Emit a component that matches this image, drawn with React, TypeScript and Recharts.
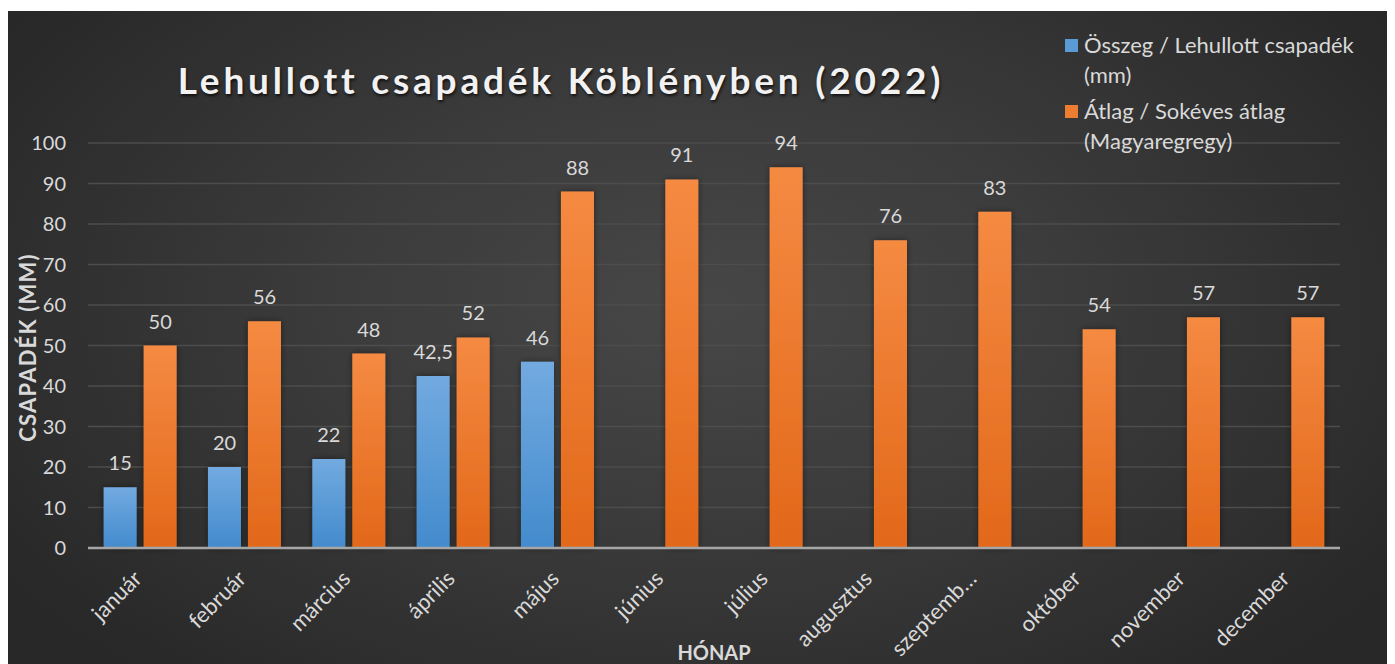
import { BarChart, Bar, XAxis, YAxis, CartesianGrid, LabelList, Label } from 'recharts';

const MONTHS = ['január', 'február', 'március', 'április', 'május', 'június', 'július', 'augusztus', 'szeptember', 'október', 'november', 'december'];
const TOTAL = [15, 20, 22, 42.5, 46, null, null, null, null, null, null, null];
const AVERAGE = [50, 56, 48, 52, 88, 91, 94, 76, 83, 54, 57, 57];
const Y_TICKS = [0, 10, 20, 30, 40, 50, 60, 70, 80, 90, 100];

const SERIES = [
  { key: 'total', name: 'Összeg / Lehullott csapadék (mm)', lines: ['Összeg / Lehullott csapadék', '(mm)'], color: '#5b9bd5', fill: 'url(#gradBlue)' },
  { key: 'average', name: 'Átlag / Sokéves átlag (Magyaregregy)', lines: ['Átlag / Sokéves átlag', '(Magyaregregy)'], color: '#ed7d31', fill: 'url(#gradOrange)' },
];

const data = MONTHS.map((m, i) => ({ month: m, total: TOTAL[i], average: AVERAGE[i] }));

const FONT = 'Lato, "Open Sans", sans-serif';
const TEXT = '#d9d9d9';

const fmt = (v: any) => (v == null ? '' : String(v).replace('.', ','));

const MonthTick = ({ x, y, payload }: any) => {
  const v: string = payload.value;
  const label = v.length > 9 ? v.slice(0, 8) + '…' : v;
  const tx = x + 3;
  const ty = y + 24;
  return (
    <text x={tx} y={ty} transform={`rotate(-45, ${tx}, ${ty})`} textAnchor="end" fill={TEXT} fontSize={22} fontFamily={FONT}>
      {label}
    </text>
  );
};

const YTitle = ({ viewBox }: any) => {
  const cy = viewBox.y + viewBox.height / 2 + 2;
  return (
    <text x={19} y={cy} transform={`rotate(-90, 19, ${cy})`} textAnchor="middle" dominantBaseline="central" fill={TEXT} fontSize={22} fontWeight={700} letterSpacing={1.2} fontFamily={FONT}>
      CSAPADÉK (MM)
    </text>
  );
};

const XTitle = ({ viewBox }: any) => (
  <text x={viewBox.x + viewBox.width / 2} y={viewBox.y + viewBox.height - 4} textAnchor="middle" fill={TEXT} fontSize={20} fontWeight={700} fontFamily={FONT}>
    HÓNAP
  </text>
);

const ChartLegend = () => (
  <div style={{ position: 'absolute', left: 1057, top: 19, fontFamily: FONT, fontSize: 22, color: TEXT, lineHeight: '30px' }}>
    {SERIES.map((s) => (
      <div key={s.key} style={{ display: 'flex', alignItems: 'flex-start', marginBottom: 6 }}>
        <div style={{ width: 13, height: 13, background: s.color, marginTop: 9, marginRight: 6, flexShrink: 0 }} />
        <div>
          {s.lines.map((l) => (
            <div key={l}>{l}</div>
          ))}
        </div>
      </div>
    ))}
  </div>
);

export default function App() {
  return (
    <div
      style={{
        marginTop: 3,
        width: 1387,
        height: 653,
        position: 'relative',
        background: 'radial-gradient(ellipse 60% 75% at 50% 45%, #474747 0%, #3b3b3b 45%, #282828 100%)',
        fontFamily: FONT,
      }}
    >
      <div
        style={{
          position: 'absolute',
          left: 0,
          width: 1106,
          top: 46,
          textAlign: 'center',
          fontSize: 37,
          fontWeight: 700,
          letterSpacing: 3.8,
          color: '#f2f2f2',
          textShadow: '1px 2px 3px rgba(0,0,0,0.7)',
        }}
      >
        Lehullott csapadék Köblényben (2022)
      </div>
      <BarChart
        width={1387}
        height={653}
        data={data}
        margin={{ top: 132, right: 55, bottom: 0, left: 0 }}
        barCategoryGap="15%"
        barGap={7}
      >
        <defs>
          <linearGradient id="gradBlue" x1="0" y1="0" x2="0" y2="1">
            <stop offset="0%" stopColor="#72aae0" />
            <stop offset="100%" stopColor="#438bcd" />
          </linearGradient>
          <linearGradient id="gradOrange" x1="0" y1="0" x2="0" y2="1">
            <stop offset="0%" stopColor="#f58a42" />
            <stop offset="100%" stopColor="#e2681a" />
          </linearGradient>
          <filter id="barShadow" x="-30%" y="-10%" width="160%" height="120%">
            <feDropShadow dx="0" dy="0" stdDeviation="3" floodColor="#000" floodOpacity="0.45" />
          </filter>
        </defs>
        <CartesianGrid vertical={false} stroke="#4d4d4d" strokeWidth={1.5} />
        <YAxis
          width={80}
          domain={[0, 100]}
          ticks={Y_TICKS}
          interval={0}
          axisLine={false}
          tickLine={false}
          tickSize={0}
          tickMargin={22}
          tick={{ fill: TEXT, fontSize: 20, fontFamily: FONT }}
        >
          <Label content={<YTitle />} />
        </YAxis>
        <XAxis
          dataKey="month"
          height={116}
          interval={0}
          tickLine={false}
          axisLine={{ stroke: '#a6a6a6', strokeWidth: 2.5 }}
          tick={<MonthTick />}
        >
          <Label content={<XTitle />} />
        </XAxis>
        {SERIES.map((s) => (
          <Bar key={s.key} dataKey={s.key} name={s.name} fill={s.fill} isAnimationActive={false} style={{ filter: 'url(#barShadow)' }}>
            <LabelList dataKey={s.key} position="top" offset={17} formatter={fmt} fill={TEXT} fontSize={20} fontFamily={FONT} />
          </Bar>
        ))}
      </BarChart>
      <ChartLegend />
    </div>
  );
}
